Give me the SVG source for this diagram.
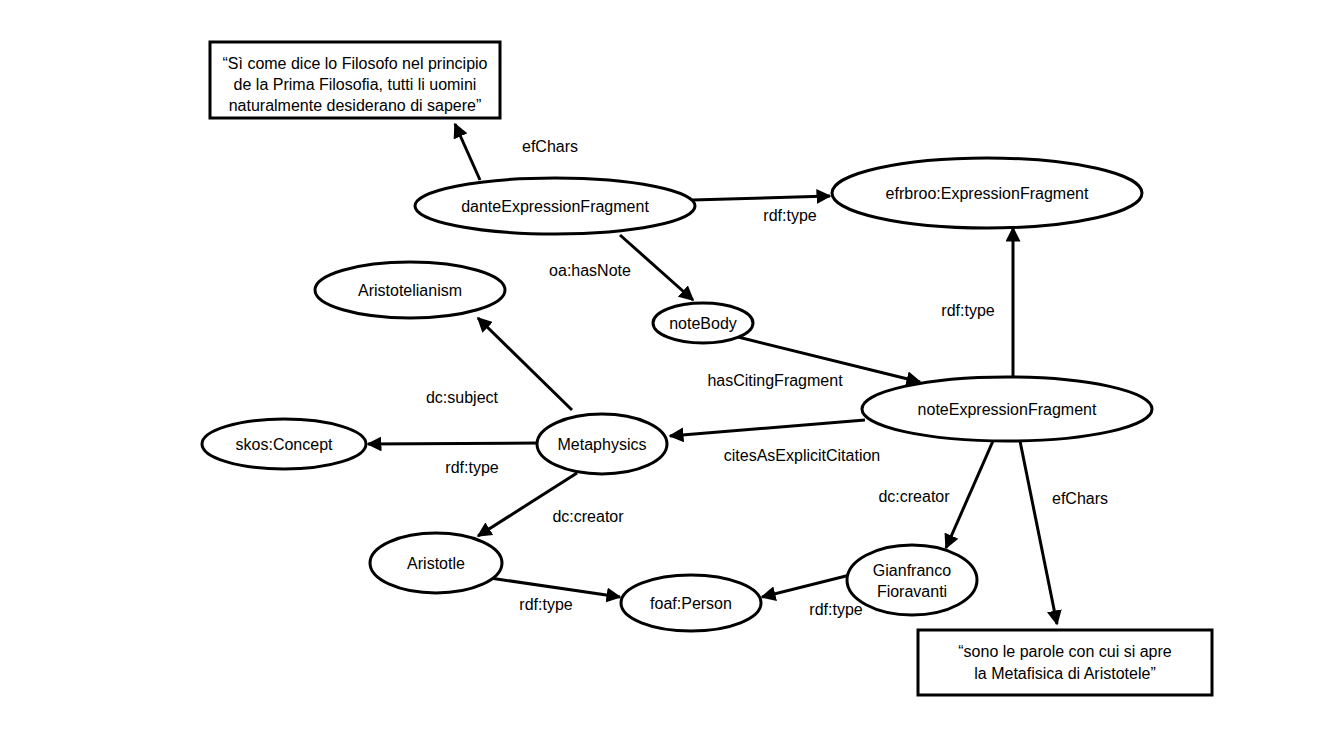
<svg xmlns="http://www.w3.org/2000/svg" width="1332" height="734" viewBox="0 0 1332 734">
<style>
.n{fill:#fff;stroke:#000;stroke-width:3}
text{font-family:"Liberation Sans",Arial,sans-serif;font-size:16px;fill:#000;text-anchor:middle;dominant-baseline:central}
.e{stroke:#000;stroke-width:3;fill:none;marker-end:url(#a)}
</style>
<defs><marker id="a" viewBox="0 0 10 10" refX="9" refY="5" markerWidth="5" markerHeight="5" orient="auto" markerUnits="strokeWidth"><path d="M0,0L10,5L0,10z" fill="#000"/></marker></defs>
<rect width="1332" height="734" fill="#fff"/>
<g id="connectors">
<line class="e" x1="480" y1="180" x2="455" y2="124"/><text x="550" y="146">efChars</text>
<line class="e" x1="692" y1="200" x2="830" y2="196"/><text x="790" y="215">rdf:type</text>
<line class="e" x1="620" y1="235" x2="693" y2="300"/><text x="590" y="270">oa:hasNote</text>
<line class="e" x1="738" y1="337" x2="920" y2="382"/><text x="775" y="380">hasCitingFragment</text>
<line class="e" x1="1013" y1="377" x2="1013" y2="228"/><text x="968" y="310">rdf:type</text>
<line class="e" x1="865" y1="420" x2="670" y2="436"/><text x="802" y="455">citesAsExplicitCitation</text>
<line class="e" x1="572" y1="410" x2="478" y2="318"/><text x="462" y="397">dc:subject</text>
<line class="e" x1="538" y1="443" x2="368" y2="444"/><text x="472" y="467">rdf:type</text>
<line class="e" x1="577" y1="473" x2="478" y2="536"/><text x="588" y="516">dc:creator</text>
<line class="e" x1="490" y1="578" x2="620" y2="597"/><text x="546" y="604">rdf:type</text>
<line class="e" x1="850" y1="575" x2="762" y2="597"/><text x="836" y="609">rdf:type</text>
<line class="e" x1="993" y1="441" x2="946" y2="548"/><text x="914" y="496">dc:creator</text>
<line class="e" x1="1020" y1="441" x2="1057" y2="624"/><text x="1080" y="498">efChars</text>
</g>
<g id="quote1"><rect class="n" x="210" y="42" width="290" height="76"/><text x="355" y="63">“Sì come dice lo Filosofo nel principio</text><text x="355" y="84">de la Prima Filosofia, tutti li uomini</text><text x="355" y="105">naturalmente desiderano di sapere”</text></g>
<g id="dante"><ellipse class="n" cx="555" cy="206" rx="140" ry="28"/><text x="555" y="206">danteExpressionFragment</text></g>
<g id="efrbroo"><ellipse class="n" cx="987" cy="193" rx="155" ry="35"/><text x="987" y="193">efrbroo:ExpressionFragment</text></g>
<g id="noteBody"><ellipse class="n" cx="703" cy="323" rx="50" ry="20"/><text x="703" y="323">noteBody</text></g>
<g id="aristotelianism"><ellipse class="n" cx="410" cy="290" rx="95" ry="28"/><text x="410" y="290">Aristotelianism</text></g>
<g id="noteExpr"><ellipse class="n" cx="1007" cy="409" rx="145" ry="32"/><text x="1007" y="409">noteExpressionFragment</text></g>
<g id="skos"><ellipse class="n" cx="284" cy="444" rx="82" ry="25"/><text x="284" y="444">skos:Concept</text></g>
<g id="metaphysics"><ellipse class="n" cx="602" cy="444" rx="65" ry="30"/><text x="602" y="444">Metaphysics</text></g>
<g id="aristotle"><ellipse class="n" cx="436" cy="563" rx="66" ry="30"/><text x="436" y="563">Aristotle</text></g>
<g id="foaf"><ellipse class="n" cx="691" cy="603" rx="70" ry="28"/><text x="691" y="603">foaf:Person</text></g>
<g id="gianfranco"><ellipse class="n" cx="912" cy="580" rx="65" ry="35"/><text x="912" y="570">Gianfranco</text><text x="912" y="591">Fioravanti</text></g>
<g id="quote2"><rect class="n" x="918" y="630" width="294" height="65"/><text x="1065" y="651">“sono le parole con cui si apre</text><text x="1065" y="673">la Metafisica di Aristotele”</text></g>
</svg>
